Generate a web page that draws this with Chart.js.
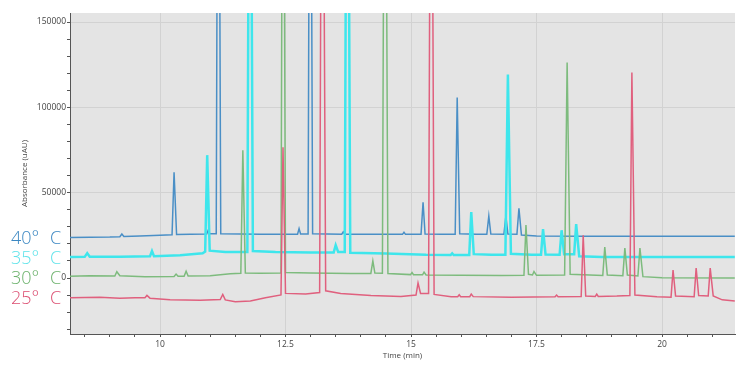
<!DOCTYPE html>
<html>
<head>
<meta charset="utf-8">
<script src="https://cdn.jsdelivr.net/npm/chart.js@4/dist/chart.umd.min.js"></script>
<style>
  html, body { margin: 0; padding: 0; background: #fff; }
  #wrap { position: relative; width: 750px; height: 366px; }
  #legend {
    position: absolute; left: 11px; top: 227px;
    font-family: 'Open Sans', sans-serif; font-size: 18px; font-weight: 300;
    line-height: 20px; word-spacing: 6px;
  }
  #legend div { height: 20px; }
</style>
</head>
<body>
<div id="wrap">
  <canvas id="chroma" width="750" height="366"></canvas>
  <div id="legend"><div style="color:#3b87c2">40° C</div><div style="color:#5fe3ea">35° C</div><div style="color:#6cb26c">30° C</div><div style="color:#dc4f72">25° C</div></div>
</div>
<script>
// time (min), absorbance (uAU); off-scale peaks given 400000
const trace40 = [
  [8.2, 23800], [9.0, 24000], [9.2, 24200], [9.24, 25800], [9.28, 24300], [9.6, 24600],
  [10.0, 25000], [10.24, 25300], [10.28, 62000], [10.33, 25500], [10.6, 25600], [10.93, 25800],
  [10.96, 28000], [10.99, 26000], [11.12, 26000], [11.16, 400000], [11.21, 26000], [11.6, 25800],
  [12.0, 25600], [12.5, 25600], [12.74, 25700], [12.77, 29000], [12.8, 25800], [12.95, 25800],
  [12.99, 400000], [13.04, 25900], [13.62, 25700], [13.65, 27000], [13.68, 25700], [14.3, 25600],
  [14.83, 25600], [14.86, 26800], [14.89, 25600], [15.2, 25700], [15.24, 44400], [15.28, 25800],
  [15.6, 25600], [15.88, 25600], [15.92, 105800], [15.97, 26000], [16.3, 25600], [16.51, 25600],
  [16.55, 36300], [16.59, 25800], [16.85, 25600], [16.89, 36300], [16.93, 25800], [17.11, 25600],
  [17.15, 40900], [17.2, 25200], [17.5, 24600], [18.5, 24500], [21.45, 24500],
];
const trace35 = [
  [8.2, 12300], [8.5, 12400], [8.55, 14600], [8.6, 12500], [9.2, 12500], [9.8, 12700],
  [9.84, 15800], [9.88, 12800], [10.4, 13300], [10.85, 14500], [10.9, 15500], [10.94, 72000],
  [10.99, 16000], [11.3, 15200], [11.74, 15300], [11.79, 400000], [11.85, 15800], [12.3, 15300],
  [13.0, 15000], [13.46, 15000], [13.5, 19300], [13.55, 15200], [13.68, 15200], [13.73, 400000],
  [13.79, 14800], [14.5, 14300], [15.3, 13600], [15.79, 13500], [15.82, 14500], [15.85, 13500],
  [16.16, 13500], [16.2, 38600], [16.25, 14000], [16.6, 13600], [16.88, 13600], [16.93, 119300],
  [16.99, 14200], [17.4, 13600], [17.59, 13600], [17.63, 28700], [17.68, 13800], [17.96, 13600],
  [18.0, 28000], [18.05, 14000], [18.25, 14000], [18.29, 31600], [18.35, 12800], [18.8, 12300],
  [21.45, 12300],
];
const trace30 = [
  [8.2, 1000], [8.6, 1300], [9.1, 1200], [9.14, 3700], [9.2, 1300], [9.7, 800], [10.28, 900],
  [10.32, 2300], [10.36, 1000], [10.48, 1000], [10.52, 4000], [10.56, 1200], [11.0, 1300],
  [11.4, 2500], [11.61, 2800], [11.65, 74800], [11.7, 3000], [12.0, 2800], [12.41, 2900],
  [12.45, 400000], [12.5, 3200], [13.0, 2900], [13.8, 2700], [14.2, 2700], [14.24, 10000],
  [14.28, 2900], [14.43, 2800], [14.48, 400000], [14.54, 2600], [14.99, 2000], [15.02, 3200],
  [15.05, 1900], [15.23, 1900], [15.26, 3500], [15.3, 1800], [16.0, 1600], [16.8, 1500],
  [17.25, 1600], [17.29, 31000], [17.34, 2200], [17.42, 1800], [17.45, 3800], [17.5, 1600],
  [18.06, 1700], [18.11, 126300], [18.17, 2200], [18.82, 1500], [18.86, 18100], [18.91, 1800],
  [19.22, 1400], [19.26, 17500], [19.31, 1800], [19.52, 1200], [19.56, 17500], [19.62, 800],
  [20.0, 100], [21.45, 0],
];
const trace25 = [
  [8.2, -11500], [8.8, -11200], [9.2, -11800], [9.5, -11500], [9.7, -11600], [9.74, -10200],
  [9.8, -11800], [10.2, -12800], [10.8, -13000], [11.2, -12600], [11.25, -9600], [11.3, -12800],
  [11.5, -13900], [11.8, -13400], [12.1, -11500], [12.41, -9900], [12.45, 76600], [12.5, -9000],
  [12.9, -9300], [13.18, -8500], [13.23, 400000], [13.3, -7500], [13.6, -9000], [14.2, -10300],
  [14.8, -10800], [15.1, -10000], [15.14, -2900], [15.19, -9000], [15.35, -9000], [15.4, 400000],
  [15.46, -9600], [15.8, -10900], [15.93, -10900], [15.96, -9800], [15.99, -10900], [16.17, -10900],
  [16.2, -9400], [16.24, -10900], [17.0, -11200], [17.87, -11000], [17.9, -10000], [17.93, -11000],
  [18.39, -10800], [18.43, 25100], [18.48, -10500], [18.67, -10800], [18.7, -9400], [18.73, -10800],
  [19.1, -10600], [19.36, -10200], [19.4, 120500], [19.46, -10000], [19.9, -11000], [20.18, -11200],
  [20.22, 4700], [20.27, -10500], [20.64, -11000], [20.68, 5800], [20.73, -10300], [20.92, -10500],
  [20.96, 5800], [21.02, -10500], [21.2, -12800], [21.45, -13500],
];

// axis ticks: minor every 0.5 min / 10000 uAU, labelled ones below
const xTicks = [8.5, 9, 9.5, 10, 10.5, 11, 11.5, 12, 12.5, 13, 13.5, 14, 14.5, 15, 15.5, 16, 16.5, 17, 17.5, 18, 18.5, 19, 19.5, 20, 20.5, 21];
const xLabels = [10, 12.5, 15, 17.5, 20];
const yTicks = [-30000, -20000, -10000, 0, 10000, 20000, 30000, 40000, 50000, 60000, 70000, 80000, 90000, 100000, 110000, 120000, 130000, 140000, 150000];
const yLabels = [0, 50000, 100000, 150000];
const yGrid = [50000, 100000, 150000];

const X_MIN = 8.207, X_MAX = 21.454;
const Y_MIN = -32800, Y_MAX = 155300;

const plotBg = {
  id: 'plotBg',
  beforeDraw(chart) {
    const { ctx, chartArea: a } = chart;
    ctx.save();
    ctx.fillStyle = '#e4e4e4';
    ctx.fillRect(a.left, a.top, a.right - a.left, a.bottom - a.top);
    ctx.restore();
  },
};

const tickFont = { family: "'Open Sans'", size: 8.5 };
const titleFont = { family: "'Open Sans'", size: 8 };

function line(data, color, width) {
  return { data, borderColor: color, borderWidth: width, pointRadius: 0, tension: 0, fill: false };
}

new Chart(document.getElementById('chroma'), {
  type: 'line',
  data: {
    datasets: [
      line(trace25, '#e0607e', 1.5),
      line(trace30, '#7dbb7d', 1.5),
      line(trace35, '#3ee6ec', 2.5),
      line(trace40, '#4a8fc6', 1.5),
    ],
  },
  options: {
    responsive: false,
    animation: false,
    layout: { padding: { top: 13, right: 15, left: 16, bottom: 1 } },
    plugins: { legend: { display: false }, tooltip: { enabled: false } },
    scales: {
      x: {
        type: 'linear',
        min: X_MIN,
        max: X_MAX,
        afterBuildTicks: s => { s.ticks = xTicks.map(value => ({ value })); },
        afterFit: s => { s.height = 31; },
        border: { color: '#555', width: 1 },
        grid: {
          color: c => xLabels.includes(c.tick.value) ? '#d2d2d2' : 'transparent',
          tickColor: '#555',
          tickLength: 3,
        },
        ticks: {
          autoSkip: false,
          maxRotation: 0,
          padding: 2,
          color: '#444',
          font: tickFont,
          callback: v => xLabels.includes(v) ? String(v) : '',
        },
        title: { display: true, text: 'Time (min)', color: '#444', font: titleFont, padding: 4 },
      },
      y: {
        min: Y_MIN,
        max: Y_MAX,
        afterBuildTicks: s => { s.ticks = yTicks.map(value => ({ value })); },
        afterFit: s => { s.width = 54; },
        border: { color: '#555', width: 1 },
        grid: {
          color: c => yGrid.includes(c.tick.value) ? '#d2d2d2' : 'transparent',
          tickColor: '#555',
          tickLength: 3,
        },
        ticks: {
          autoSkip: false,
          padding: 1,
          color: '#444',
          font: tickFont,
          callback: v => yLabels.includes(v) ? String(v) : '',
        },
        title: { display: true, text: 'Absorbance (uAU)', color: '#444', font: titleFont, padding: 4 },
      },
    },
  },
  plugins: [plotBg],
});
</script>
</body>
</html>
